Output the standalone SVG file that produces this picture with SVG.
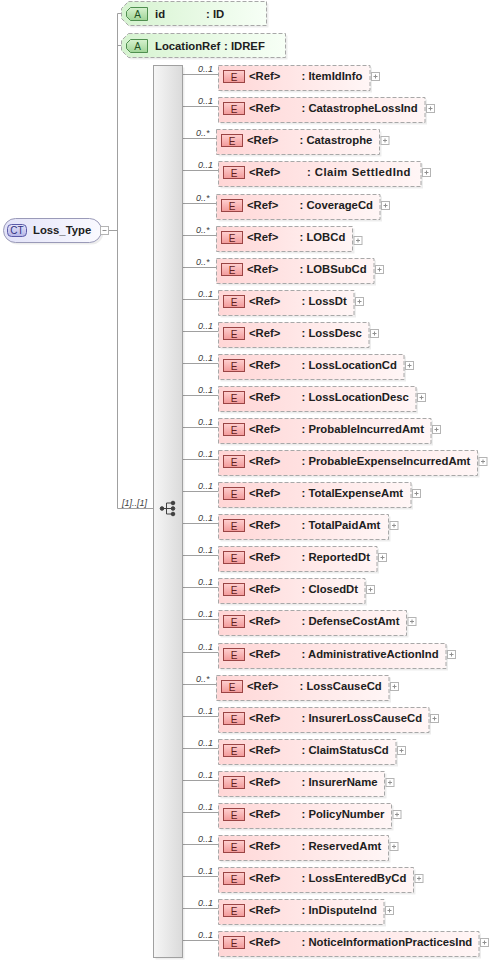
<svg xmlns="http://www.w3.org/2000/svg" xmlns:xlink="http://www.w3.org/1999/xlink" width="489" height="961" viewBox="0 0 489 961">
<defs>
<linearGradient id="gE" x1="0" y1="0" x2="1" y2="0"><stop offset="0" stop-color="#ffd6d6"/><stop offset="1" stop-color="#fff6f6"/></linearGradient>
<linearGradient id="gEb" x1="0" y1="0" x2="0" y2="1"><stop offset="0" stop-color="#ffd0d0"/><stop offset="1" stop-color="#f29a9a"/></linearGradient>
<linearGradient id="gA" x1="0" y1="0" x2="1" y2="0"><stop offset="0" stop-color="#d6f3d0"/><stop offset="1" stop-color="#f7fff6"/></linearGradient>
<linearGradient id="gAb" x1="0" y1="0" x2="0" y2="1"><stop offset="0" stop-color="#d8f2d0"/><stop offset="1" stop-color="#9fd496"/></linearGradient>
<linearGradient id="gC" x1="0" y1="0" x2="1" y2="0"><stop offset="0" stop-color="#e2e2f8"/><stop offset="1" stop-color="#fafaff"/></linearGradient>
<linearGradient id="gCb" x1="0" y1="0" x2="0" y2="1"><stop offset="0" stop-color="#e4e4fa"/><stop offset="1" stop-color="#b4b4e6"/></linearGradient>
<linearGradient id="gS" x1="0" y1="0" x2="1" y2="0"><stop offset="0" stop-color="#f6f6f6"/><stop offset="1" stop-color="#dadada"/></linearGradient>
<g id="plus"><rect x="0" y="0" width="8" height="8" fill="#ffffff" stroke="#b4b4b4" stroke-width="1"/><path d="M2 4h4M4 2v4" stroke="#909090" stroke-width="1"/></g>
</defs>
<style>
.t{font-family:"Liberation Sans",Arial,sans-serif;font-size:11.3px;font-weight:bold;fill:#202020}
.et{font-family:"Liberation Sans",Arial,sans-serif;font-size:10px;fill:#602020;text-anchor:middle}
.at{font-family:"Liberation Sans",Arial,sans-serif;font-size:10px;fill:#205020;text-anchor:middle}
.ct{font-family:"Liberation Sans",Arial,sans-serif;font-size:10px;fill:#303080;text-anchor:middle}
.m{font-family:"Liberation Sans",Arial,sans-serif;font-size:9px;font-style:italic;fill:#404040}
.sh{fill:#000000;fill-opacity:0.07}
.eb{fill:url(#gE);stroke:#a8a8a8;stroke-width:1;stroke-dasharray:4 2}
.eg{fill:url(#gEb);stroke:#9a4444;stroke-width:1}
.ab{fill:url(#gA);stroke:#a8a8a8;stroke-width:1;stroke-dasharray:4 2}
.ag{fill:url(#gAb);stroke:#4f8f4f;stroke-width:1}
.ln{stroke:#a0a0a0;stroke-width:1;fill:none}
</style>
<rect width="489" height="961" fill="#ffffff"/>

<g id="connectors">
<path class="ln" d="M108 230.5H117.5M117.5 13.5V508.5M117.5 13.5H121.5M117.5 45.5H121.5M117.5 508.5H153"/>
<text class="m" x="122" y="506">[1]..[1]</text>
<path class="ln" d="M182 74.5H218M182 106.5H218M182 138.5H216M182 170.5H218M182 203.5H216M182 235.5H216M182 267.5H216M182 299.5H218M182 331.5H218M182 363.5H218M182 395.5H218M182 427.5H218M182 459.5H218M182 491.5H218M182 523.5H218M182 555.5H218M182 587.5H218M182 619.5H218M182 652.5H218M182 684.5H216M182 716.5H218M182 748.5H218M182 780.5H218M182 812.5H218M182 844.5H218M182 876.5H218M182 908.5H218M182 940.5H218"/>
<g class="m">
<text x="198" y="72">0..1</text>
<text x="198" y="104">0..1</text>
<text x="196" y="136">0..*</text>
<text x="198" y="168">0..1</text>
<text x="196" y="201">0..*</text>
<text x="196" y="233">0..*</text>
<text x="196" y="265">0..*</text>
<text x="198" y="297">0..1</text>
<text x="198" y="329">0..1</text>
<text x="198" y="361">0..1</text>
<text x="198" y="393">0..1</text>
<text x="198" y="425">0..1</text>
<text x="198" y="457">0..1</text>
<text x="198" y="489">0..1</text>
<text x="198" y="521">0..1</text>
<text x="198" y="553">0..1</text>
<text x="198" y="585">0..1</text>
<text x="198" y="617">0..1</text>
<text x="198" y="650">0..1</text>
<text x="196" y="682">0..*</text>
<text x="198" y="714">0..1</text>
<text x="198" y="746">0..1</text>
<text x="198" y="778">0..1</text>
<text x="198" y="810">0..1</text>
<text x="198" y="842">0..1</text>
<text x="198" y="874">0..1</text>
<text x="198" y="906">0..1</text>
<text x="198" y="938">0..1</text>
</g>
</g>

<g id="Loss_Type">
<rect x="5.5" y="220.5" width="98" height="24" rx="12" class="sh"/>
<rect x="3.5" y="218.5" width="98" height="24" rx="12" fill="url(#gC)" stroke="#9a9ab8" stroke-width="1"/>
<rect x="7.5" y="224.5" width="19" height="12" rx="4" fill="url(#gCb)" stroke="#5a5aa8" stroke-width="1"/>
<text class="ct" x="17" y="234">CT</text>
<text class="t" x="33" y="234">Loss_Type</text>
<rect x="100.5" y="226.5" width="8" height="8" fill="#ffffff" stroke="#b4b4b4"/>
<path d="M102.5 230.5H106.5" stroke="#909090"/>
</g>

<g id="attr-id">
<polygon class="sh" points="130.5,3.5 268.5,3.5 268.5,27.5 130.5,27.5 123.5,20.5 123.5,10.5"/>
<polygon class="ab" points="128.5,1.5 266.5,1.5 266.5,25.5 128.5,25.5 121.5,18.5 121.5,8.5"/>
<polygon class="ag" points="130.5,7.5 147.5,7.5 147.5,20.5 130.5,20.5 126.5,16.5 126.5,11.5"/>
<text class="at" x="137.5" y="17.5">A</text>
<text class="t" x="155" y="18">id</text>
<text class="t" x="206" y="18">: ID</text>
</g>

<g id="attr-LocationRef">
<polygon class="sh" points="130.5,35.5 287.5,35.5 287.5,59.5 130.5,59.5 123.5,52.5 123.5,42.5"/>
<polygon class="ab" points="128.5,33.5 285.5,33.5 285.5,57.5 128.5,57.5 121.5,50.5 121.5,40.5"/>
<polygon class="ag" points="130.5,39.5 147.5,39.5 147.5,52.5 130.5,52.5 126.5,48.5 126.5,43.5"/>
<text class="at" x="137.5" y="49.5">A</text>
<text class="t" x="155" y="50">LocationRef</text>
<text class="t" x="224" y="50">: IDREF</text>
</g>

<g id="sequence">
<rect x="155.5" y="67.5" width="29" height="892" class="sh"/>
<rect x="153.5" y="65.5" width="29" height="892" fill="url(#gS)" stroke="#a0a0a0" stroke-width="1"/>
<g stroke="#404040" stroke-width="1" fill="#404040">
<path d="M162 508.5H166.5M166.5 503V514M166.5 503H172M166.5 508.5H172M166.5 514H172" fill="none"/>
<circle cx="162" cy="508.5" r="1.8"/>
<circle cx="173" cy="503" r="1.8"/>
<circle cx="173" cy="508.5" r="1.8"/>
<circle cx="173" cy="514" r="1.8"/>
</g>
</g>

<g id="e-ItemIdInfo" transform="translate(0,74)">
<rect class="sh" x="220.5" y="-6.5" width="151.5" height="25"/><rect class="eb" x="218.5" y="-8.5" width="151.5" height="25"/>
<rect class="eg" x="223.5" y="-3.5" width="21" height="12"/><text class="et" x="234" y="6.5">E</text>
<text class="t" x="249" y="6">&lt;Ref&gt;</text><text class="t" x="301.5" y="6">: ItemIdInfo</text>
<use href="#plus" x="371.5" y="-1.5"/></g>

<g id="e-CatastropheLossInd" transform="translate(0,106)">
<rect class="sh" x="220.5" y="-6.5" width="206.5" height="25"/><rect class="eb" x="218.5" y="-8.5" width="206.5" height="25"/>
<rect class="eg" x="223.5" y="-3.5" width="21" height="12"/><text class="et" x="234" y="6.5">E</text>
<text class="t" x="249" y="6">&lt;Ref&gt;</text><text class="t" x="301.5" y="6">: CatastropheLossInd</text>
<use href="#plus" x="426.5" y="-1.5"/></g>

<g id="e-Catastrophe" transform="translate(-2,138)">
<rect class="sh" x="220.5" y="-6.5" width="163" height="25"/><rect class="eb" x="218.5" y="-8.5" width="163" height="25"/>
<rect class="eg" x="223.5" y="-3.5" width="21" height="12"/><text class="et" x="234" y="6.5">E</text>
<text class="t" x="249" y="6">&lt;Ref&gt;</text><text class="t" x="301.5" y="6">: Catastrophe</text>
<use href="#plus" x="383" y="-1.5"/></g>

<g id="e-ClaimSettledInd" transform="translate(0,170)">
<rect class="sh" x="220.5" y="-6.5" width="202.5" height="25"/><rect class="eb" x="218.5" y="-8.5" width="202.5" height="25"/>
<rect class="eg" x="223.5" y="-3.5" width="21" height="12"/><text class="et" x="234" y="6.5">E</text>
<text class="t" x="249" y="6">&lt;Ref&gt;</text><text class="t" x="307" y="6" style="letter-spacing:0.45px">: Claim<tspan dx="4">SettledInd</tspan></text>
<use href="#plus" x="422.5" y="-1.5"/></g>

<g id="e-CoverageCd" transform="translate(-2,203)">
<rect class="sh" x="220.5" y="-6.5" width="163.5" height="25"/><rect class="eb" x="218.5" y="-8.5" width="163.5" height="25"/>
<rect class="eg" x="223.5" y="-3.5" width="21" height="12"/><text class="et" x="234" y="6.5">E</text>
<text class="t" x="249" y="6">&lt;Ref&gt;</text><text class="t" x="301.5" y="6">: CoverageCd</text>
<use href="#plus" x="383.5" y="-1.5"/></g>

<g id="e-LOBCd" transform="translate(-2,235)">
<rect class="sh" x="220.5" y="-6.5" width="136" height="25"/><rect class="eb" x="218.5" y="-8.5" width="136" height="25"/>
<rect class="eg" x="223.5" y="-3.5" width="21" height="12"/><text class="et" x="234" y="6.5">E</text>
<text class="t" x="249" y="6">&lt;Ref&gt;</text><text class="t" x="301.5" y="6">: LOBCd</text>
<use href="#plus" x="356" y="1.5"/></g>

<g id="e-LOBSubCd" transform="translate(-2,267)">
<rect class="sh" x="220.5" y="-6.5" width="157.5" height="25"/><rect class="eb" x="218.5" y="-8.5" width="157.5" height="25"/>
<rect class="eg" x="223.5" y="-3.5" width="21" height="12"/><text class="et" x="234" y="6.5">E</text>
<text class="t" x="249" y="6">&lt;Ref&gt;</text><text class="t" x="301.5" y="6">: LOBSubCd</text>
<use href="#plus" x="377.5" y="-1.5"/></g>

<g id="e-LossDt" transform="translate(0,299)">
<rect class="sh" x="220.5" y="-6.5" width="135.5" height="25"/><rect class="eb" x="218.5" y="-8.5" width="135.5" height="25"/>
<rect class="eg" x="223.5" y="-3.5" width="21" height="12"/><text class="et" x="234" y="6.5">E</text>
<text class="t" x="249" y="6">&lt;Ref&gt;</text><text class="t" x="301.5" y="6">: LossDt</text>
<use href="#plus" x="355.5" y="-1.5"/></g>

<g id="e-LossDesc" transform="translate(0,331)">
<rect class="sh" x="220.5" y="-6.5" width="150.5" height="25"/><rect class="eb" x="218.5" y="-8.5" width="150.5" height="25"/>
<rect class="eg" x="223.5" y="-3.5" width="21" height="12"/><text class="et" x="234" y="6.5">E</text>
<text class="t" x="249" y="6">&lt;Ref&gt;</text><text class="t" x="301.5" y="6">: LossDesc</text>
<use href="#plus" x="370.5" y="-1.5"/></g>

<g id="e-LossLocationCd" transform="translate(0,363)">
<rect class="sh" x="220.5" y="-6.5" width="185.5" height="25"/><rect class="eb" x="218.5" y="-8.5" width="185.5" height="25"/>
<rect class="eg" x="223.5" y="-3.5" width="21" height="12"/><text class="et" x="234" y="6.5">E</text>
<text class="t" x="249" y="6">&lt;Ref&gt;</text><text class="t" x="301.5" y="6">: LossLocationCd</text>
<use href="#plus" x="405.5" y="-1.5"/></g>

<g id="e-LossLocationDesc" transform="translate(0,395)">
<rect class="sh" x="220.5" y="-6.5" width="197.5" height="25"/><rect class="eb" x="218.5" y="-8.5" width="197.5" height="25"/>
<rect class="eg" x="223.5" y="-3.5" width="21" height="12"/><text class="et" x="234" y="6.5">E</text>
<text class="t" x="249" y="6">&lt;Ref&gt;</text><text class="t" x="301.5" y="6">: LossLocationDesc</text>
<use href="#plus" x="417.5" y="-1.5"/></g>

<g id="e-ProbableIncurredAmt" transform="translate(0,427)">
<rect class="sh" x="220.5" y="-6.5" width="212.5" height="25"/><rect class="eb" x="218.5" y="-8.5" width="212.5" height="25"/>
<rect class="eg" x="223.5" y="-3.5" width="21" height="12"/><text class="et" x="234" y="6.5">E</text>
<text class="t" x="249" y="6">&lt;Ref&gt;</text><text class="t" x="301.5" y="6">: ProbableIncurredAmt</text>
<use href="#plus" x="432.5" y="-1.5"/></g>

<g id="e-ProbableExpenseIncurredAmt" transform="translate(0,459)">
<rect class="sh" x="220.5" y="-6.5" width="259" height="25"/><rect class="eb" x="218.5" y="-8.5" width="259" height="25"/>
<rect class="eg" x="223.5" y="-3.5" width="21" height="12"/><text class="et" x="234" y="6.5">E</text>
<text class="t" x="249" y="6">&lt;Ref&gt;</text><text class="t" x="301.5" y="6">: ProbableExpenseIncurredAmt</text>
<use href="#plus" x="479" y="-1.5"/></g>

<g id="e-TotalExpenseAmt" transform="translate(0,491)">
<rect class="sh" x="220.5" y="-6.5" width="192.5" height="25"/><rect class="eb" x="218.5" y="-8.5" width="192.5" height="25"/>
<rect class="eg" x="223.5" y="-3.5" width="21" height="12"/><text class="et" x="234" y="6.5">E</text>
<text class="t" x="249" y="6">&lt;Ref&gt;</text><text class="t" x="301.5" y="6">: TotalExpenseAmt</text>
<use href="#plus" x="412.5" y="-1.5"/></g>

<g id="e-TotalPaidAmt" transform="translate(0,523)">
<rect class="sh" x="220.5" y="-6.5" width="170" height="25"/><rect class="eb" x="218.5" y="-8.5" width="170" height="25"/>
<rect class="eg" x="223.5" y="-3.5" width="21" height="12"/><text class="et" x="234" y="6.5">E</text>
<text class="t" x="249" y="6">&lt;Ref&gt;</text><text class="t" x="301.5" y="6">: TotalPaidAmt</text>
<use href="#plus" x="390" y="-1.5"/></g>

<g id="e-ReportedDt" transform="translate(0,555)">
<rect class="sh" x="220.5" y="-6.5" width="158.5" height="25"/><rect class="eb" x="218.5" y="-8.5" width="158.5" height="25"/>
<rect class="eg" x="223.5" y="-3.5" width="21" height="12"/><text class="et" x="234" y="6.5">E</text>
<text class="t" x="249" y="6">&lt;Ref&gt;</text><text class="t" x="301.5" y="6">: ReportedDt</text>
<use href="#plus" x="378.5" y="-1.5"/></g>

<g id="e-ClosedDt" transform="translate(0,587)">
<rect class="sh" x="220.5" y="-6.5" width="146.5" height="25"/><rect class="eb" x="218.5" y="-8.5" width="146.5" height="25"/>
<rect class="eg" x="223.5" y="-3.5" width="21" height="12"/><text class="et" x="234" y="6.5">E</text>
<text class="t" x="249" y="6">&lt;Ref&gt;</text><text class="t" x="301.5" y="6">: ClosedDt</text>
<use href="#plus" x="366.5" y="-1.5"/></g>

<g id="e-DefenseCostAmt" transform="translate(0,619)">
<rect class="sh" x="220.5" y="-6.5" width="188" height="25"/><rect class="eb" x="218.5" y="-8.5" width="188" height="25"/>
<rect class="eg" x="223.5" y="-3.5" width="21" height="12"/><text class="et" x="234" y="6.5">E</text>
<text class="t" x="249" y="6">&lt;Ref&gt;</text><text class="t" x="301.5" y="6">: DefenseCostAmt</text>
<use href="#plus" x="408" y="-1.5"/></g>

<g id="e-AdministrativeActionInd" transform="translate(0,652)">
<rect class="sh" x="220.5" y="-6.5" width="227.5" height="25"/><rect class="eb" x="218.5" y="-8.5" width="227.5" height="25"/>
<rect class="eg" x="223.5" y="-3.5" width="21" height="12"/><text class="et" x="234" y="6.5">E</text>
<text class="t" x="249" y="6">&lt;Ref&gt;</text><text class="t" x="301.5" y="6">: AdministrativeActionInd</text>
<use href="#plus" x="447.5" y="-1.5"/></g>

<g id="e-LossCauseCd" transform="translate(-2,684)">
<rect class="sh" x="220.5" y="-6.5" width="172.5" height="25"/><rect class="eb" x="218.5" y="-8.5" width="172.5" height="25"/>
<rect class="eg" x="223.5" y="-3.5" width="21" height="12"/><text class="et" x="234" y="6.5">E</text>
<text class="t" x="249" y="6">&lt;Ref&gt;</text><text class="t" x="301.5" y="6">: LossCauseCd</text>
<use href="#plus" x="392.5" y="-1.5"/></g>

<g id="e-InsurerLossCauseCd" transform="translate(0,716)">
<rect class="sh" x="220.5" y="-6.5" width="210.5" height="25"/><rect class="eb" x="218.5" y="-8.5" width="210.5" height="25"/>
<rect class="eg" x="223.5" y="-3.5" width="21" height="12"/><text class="et" x="234" y="6.5">E</text>
<text class="t" x="249" y="6">&lt;Ref&gt;</text><text class="t" x="301.5" y="6">: InsurerLossCauseCd</text>
<use href="#plus" x="430.5" y="-1.5"/></g>

<g id="e-ClaimStatusCd" transform="translate(0,748)">
<rect class="sh" x="220.5" y="-6.5" width="177.5" height="25"/><rect class="eb" x="218.5" y="-8.5" width="177.5" height="25"/>
<rect class="eg" x="223.5" y="-3.5" width="21" height="12"/><text class="et" x="234" y="6.5">E</text>
<text class="t" x="249" y="6">&lt;Ref&gt;</text><text class="t" x="301.5" y="6">: ClaimStatusCd</text>
<use href="#plus" x="397.5" y="-1.5"/></g>

<g id="e-InsurerName" transform="translate(0,780)">
<rect class="sh" x="220.5" y="-6.5" width="166" height="25"/><rect class="eb" x="218.5" y="-8.5" width="166" height="25"/>
<rect class="eg" x="223.5" y="-3.5" width="21" height="12"/><text class="et" x="234" y="6.5">E</text>
<text class="t" x="249" y="6">&lt;Ref&gt;</text><text class="t" x="301.5" y="6">: InsurerName</text>
<use href="#plus" x="386" y="-1.5"/></g>

<g id="e-PolicyNumber" transform="translate(0,812)">
<rect class="sh" x="220.5" y="-6.5" width="173" height="25"/><rect class="eb" x="218.5" y="-8.5" width="173" height="25"/>
<rect class="eg" x="223.5" y="-3.5" width="21" height="12"/><text class="et" x="234" y="6.5">E</text>
<text class="t" x="249" y="6">&lt;Ref&gt;</text><text class="t" x="301.5" y="6">: PolicyNumber</text>
<use href="#plus" x="393" y="-1.5"/></g>

<g id="e-ReservedAmt" transform="translate(0,844)">
<rect class="sh" x="220.5" y="-6.5" width="170" height="25"/><rect class="eb" x="218.5" y="-8.5" width="170" height="25"/>
<rect class="eg" x="223.5" y="-3.5" width="21" height="12"/><text class="et" x="234" y="6.5">E</text>
<text class="t" x="249" y="6">&lt;Ref&gt;</text><text class="t" x="301.5" y="6">: ReservedAmt</text>
<use href="#plus" x="390" y="-1.5"/></g>

<g id="e-LossEnteredByCd" transform="translate(0,876)">
<rect class="sh" x="220.5" y="-6.5" width="195" height="25"/><rect class="eb" x="218.5" y="-8.5" width="195" height="25"/>
<rect class="eg" x="223.5" y="-3.5" width="21" height="12"/><text class="et" x="234" y="6.5">E</text>
<text class="t" x="249" y="6">&lt;Ref&gt;</text><text class="t" x="301.5" y="6">: LossEnteredByCd</text>
<use href="#plus" x="415" y="-1.5"/></g>

<g id="e-InDisputeInd" transform="translate(0,908)">
<rect class="sh" x="220.5" y="-6.5" width="165.5" height="25"/><rect class="eb" x="218.5" y="-8.5" width="165.5" height="25"/>
<rect class="eg" x="223.5" y="-3.5" width="21" height="12"/><text class="et" x="234" y="6.5">E</text>
<text class="t" x="249" y="6">&lt;Ref&gt;</text><text class="t" x="301.5" y="6">: InDisputeInd</text>
<use href="#plus" x="385.5" y="-1.5"/></g>

<g id="e-NoticeInformationPracticesInd" transform="translate(0,940)">
<rect class="sh" x="220.5" y="-6.5" width="260.5" height="25"/><rect class="eb" x="218.5" y="-8.5" width="260.5" height="25"/>
<rect class="eg" x="223.5" y="-3.5" width="21" height="12"/><text class="et" x="234" y="6.5">E</text>
<text class="t" x="249" y="6">&lt;Ref&gt;</text><text class="t" x="301.5" y="6">: NoticeInformationPracticesInd</text>
<use href="#plus" x="480.5" y="-1.5"/></g>
</svg>
